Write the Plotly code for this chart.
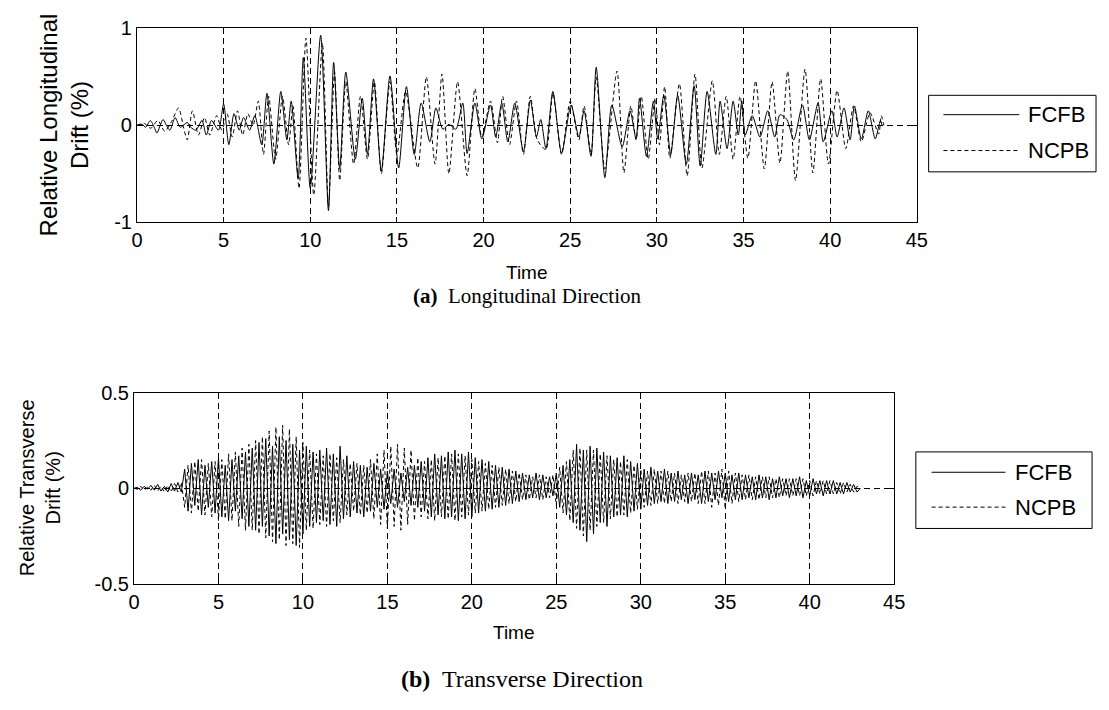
import plotly.graph_objects as go

# ---------------- Data: (a) Longitudinal direction (peak readings) ----------------
TOP_FCFB_T = [0.0, 0.3, 0.5, 0.77, 1.0, 1.15, 1.5, 1.7, 1.9, 2.2, 2.5, 2.9, 3.1, 3.4, 3.75, 4.0, 4.3, 4.7,
              5.0, 5.3, 5.6, 5.9, 6.15, 6.5, 6.8, 7.2, 7.5, 7.9, 8.3, 8.65, 8.9, 9.3, 9.6, 10.0, 10.6, 11.05,
              11.35, 11.7, 12.05, 12.6, 13.0, 13.3, 13.65, 14.1, 14.6, 15.1, 15.55, 16.0, 16.4, 16.9, 17.25,
              17.65, 18.0, 18.4, 18.8, 19.05, 19.5, 19.9, 20.4, 20.7, 21.05, 21.4, 21.8, 22.3, 22.7, 23.05,
              23.3, 23.6, 24.0, 24.5, 25.05, 25.5, 25.8, 26.2, 26.5, 27.0, 27.4, 28.0, 28.45, 28.8, 29.0,
              29.4, 29.8, 30.05, 30.4, 30.8, 31.2, 31.7, 32.15, 32.5, 32.9, 33.4, 33.65, 34.05, 34.4, 34.7,
              34.9, 35.1, 35.5, 35.95, 36.4, 36.8, 37.1, 37.5, 37.9, 38.4, 38.8, 39.3, 39.6, 40.1, 40.4,
              40.8, 41.15, 41.4, 41.8, 42.2, 42.6, 42.9, 43.0]
TOP_FCFB_V = [0.0, 0.01, -0.02, 0.05, -0.02, -0.08, 0.06, 0.0, -0.05, 0.08, -0.02, 0.03, -0.02, -0.05, 0.05, -0.1,
              0.05, -0.05, 0.22, -0.2, 0.12, -0.05, 0.08, -0.05, 0.1, -0.2, 0.33, -0.4, 0.35, -0.15, 0.25, -0.55,
              0.7, -0.65, 0.93, -0.88, 0.65, -0.45, 0.55, -0.35, 0.28, -0.3, 0.48, -0.47, 0.51, -0.44, 0.4, -0.3,
              0.23, -0.17, 0.18, -0.04, 0.01, -0.04, 0.23, -0.29, 0.23, -0.14, 0.21, -0.12, 0.23, -0.17, 0.23,
              -0.27, 0.26, -0.12, 0.06, -0.24, 0.35, -0.29, 0.21, -0.12, 0.15, -0.32, 0.6, -0.54, 0.21, -0.22,
              0.15, -0.14, 0.28, -0.32, 0.25, -0.14, 0.31, -0.3, 0.31, -0.4, 0.41, -0.42, 0.35, -0.3, 0.25,
              -0.24, 0.25, -0.1, 0.25, -0.1, 0.1, -0.12, 0.15, -0.12, 0.11, 0.06, -0.15, 0.21, -0.15, 0.23,
              -0.17, 0.15, -0.12, 0.18, -0.15, 0.2, -0.14, 0.15, -0.14, 0.05, 0.0]

TOP_NCPB_T = [0.0, 0.4, 0.8, 1.2, 1.6, 2.0, 2.4, 2.7, 2.9, 3.2, 3.55, 3.9, 4.2, 4.6, 4.9, 5.2, 5.5, 5.8, 6.1,
              6.4, 6.7, 7.0, 7.3, 7.6, 8.0, 8.4, 8.75, 9.0, 9.35, 9.75, 10.2, 10.7, 11.05, 11.4, 11.7, 12.05,
              12.5, 12.9, 13.3, 13.7, 14.1, 14.6, 15.0, 15.5, 16.2, 16.7, 17.2, 17.6, 18.0, 18.5, 19.05, 19.5,
              19.9, 20.4, 20.8, 21.1, 21.5, 21.9, 22.3, 22.7, 23.1, 23.6, 24.0, 24.5, 25.0, 25.5, 25.8, 26.2,
              26.5, 27.0, 27.7, 28.1, 28.5, 28.8, 29.1, 29.5, 29.9, 30.15, 30.45, 30.75, 31.3, 31.75, 32.2,
              32.6, 33.2, 33.6, 34.0, 34.4, 34.8, 35.25, 35.7, 36.2, 36.65, 37.1, 37.55, 38.0, 38.55, 39.0,
              39.45, 39.9, 40.4, 40.9, 41.35, 41.8, 42.3, 42.8, 42.95, 43.1]
TOP_NCPB_V = [0.0, 0.02, -0.03, 0.05, -0.06, 0.04, 0.18, -0.03, -0.15, 0.15, -0.1, 0.08, -0.1, 0.1, -0.05,
              0.12, -0.12, 0.15, -0.1, 0.12, 0.0, 0.25, -0.3, 0.3, -0.35, 0.3, -0.2, 0.2, -0.65, 0.9, -0.72,
              0.85, -0.84, 0.55, -0.57, 0.45, -0.4, 0.3, -0.35, 0.45, -0.5, 0.45, -0.3, 0.35, -0.44, 0.5, -0.4,
              0.53, -0.5, 0.45, -0.52, 0.38, -0.12, 0.25, -0.18, 0.3, -0.2, 0.25, -0.3, 0.3, -0.15, -0.25, 0.33,
              -0.3, 0.25, -0.15, 0.2, -0.3, 0.5, -0.45, 0.56, -0.49, 0.2, -0.15, 0.3, -0.35, 0.28, -0.2, 0.4,
              -0.34, 0.43, -0.52, 0.53, -0.44, 0.46, -0.3, 0.3, -0.35, 0.3, -0.34, 0.46, -0.45, 0.45, -0.39,
              0.56, -0.57, 0.58, -0.49, 0.48, -0.4, 0.36, -0.24, 0.2, -0.17, 0.13, -0.09, 0.1, 0.0]

# ---------------- Data: (b) Transverse direction (readings every 0.2 s) ----------------
BOT_STEP = 0.2
BOT_FCFB_V = [0, 0.005, -0.01, 0.01, -0.005, 0.015, -0.01, 0.02, -0.015, 0.01, -0.02, 0.025, -0.015, 0.03, -0.02,
              0.1, -0.12, 0.13, -0.09, 0.15, -0.14, 0.12, -0.1, 0.14, -0.13,
              0.16, -0.15, 0.12, -0.17, 0.15, -0.12, 0.17, -0.16, 0.19, -0.2,
              0.21, -0.22, 0.24, -0.2, 0.26, -0.25, 0.22, -0.29, 0.27, -0.24,
              0.25, -0.27, 0.23, -0.3, 0.2, -0.24, 0.22, -0.2, 0.19, -0.18,
              0.2, -0.17, 0.21, -0.19, 0.18, -0.2, 0.22, -0.16, 0.17, -0.15,
              0.14, -0.13, 0.12, -0.15, 0.11, -0.12, 0.13, -0.1, 0.1, -0.11,
              0.09, -0.08, 0.1, -0.1, 0.08, -0.07, 0.11, -0.09, 0.12, -0.1,
              0.14, -0.12, 0.16, -0.15, 0.18, -0.14, 0.17, -0.16, 0.19, -0.15,
              0.2, -0.17, 0.18, -0.16, 0.19, -0.15, 0.16, -0.13, 0.15, -0.12,
              0.14, -0.11, 0.12, -0.1, 0.11, -0.09, 0.1, -0.08, 0.09, -0.07,
              0.08, -0.06, 0.07, -0.05, 0.08, -0.06, 0.07, -0.05, 0.06, -0.04,
              0.08, -0.1, 0.12, -0.14, 0.15, -0.18, 0.23, -0.22, 0.2, -0.28,
              0.22, -0.24, 0.21, -0.18, 0.19, -0.2, 0.17, -0.15, 0.16, -0.14,
              0.17, -0.15, 0.14, -0.12, 0.13, -0.11, 0.1, -0.09, 0.11, -0.08,
              0.09, -0.07, 0.1, -0.08, 0.08, -0.07, 0.09, -0.06, 0.07, -0.08,
              0.08, -0.06, 0.07, -0.08, 0.09, -0.07, 0.08, -0.06, 0.09, -0.05,
              0.08, -0.07, 0.07, -0.06, 0.08, -0.06, 0.07, -0.05, 0.06, -0.06,
              0.07, -0.05, 0.06, -0.06, 0.05, -0.05, 0.06, -0.04, 0.05, -0.05,
              0.05, -0.04, 0.06, -0.05, 0.04, -0.04, 0.05, -0.03, 0.04, -0.04,
              0.04, -0.03, 0.04, -0.03, 0.03, -0.03, 0.03, -0.02, 0.02, -0.02, 0.0]
BOT_NCPB_V = [0, -0.005, 0.01, -0.01, 0.005, -0.01, 0.015, -0.015, 0.01, -0.02, 0.015, -0.02, 0.025, -0.02, 0.03,
              -0.1, 0.12, -0.13, 0.14, -0.12, 0.15, -0.14, 0.13, -0.15, 0.14,
              -0.17, 0.15, -0.16, 0.18, -0.17, 0.19, -0.2, 0.21, -0.22, 0.23,
              -0.22, 0.25, -0.24, 0.27, -0.26, 0.3, -0.28, 0.32, -0.27, 0.33,
              -0.3, 0.31, -0.29, 0.27, -0.31, 0.24, -0.22, 0.2, -0.21, 0.18,
              -0.19, 0.17, -0.2, 0.18, -0.17, 0.16, -0.18, 0.15, -0.14, 0.13,
              -0.12, 0.13, -0.14, 0.12, -0.13, 0.15, -0.16, 0.18, -0.19, 0.2,
              -0.21, 0.22, -0.2, 0.23, -0.22, 0.21, -0.19, 0.2, -0.17, 0.16,
              -0.15, 0.14, -0.16, 0.15, -0.17, 0.16, -0.15, 0.17, -0.16, 0.18,
              -0.17, 0.18, -0.15, 0.17, -0.14, 0.15, -0.13, 0.14, -0.12, 0.13,
              -0.11, 0.12, -0.1, 0.11, -0.09, 0.1, -0.08, 0.09, -0.07, 0.08,
              -0.06, 0.07, -0.06, 0.06, -0.05, 0.07, -0.06, 0.06, -0.05, 0.07,
              -0.09, 0.11, -0.13, 0.14, -0.17, 0.2, -0.21, 0.21, -0.25, 0.2,
              -0.22, 0.2, -0.2, 0.18, -0.18, 0.17, -0.16, 0.15, -0.15, 0.14,
              -0.14, 0.15, -0.13, 0.12, -0.11, 0.1, -0.1, 0.09, -0.09, 0.1,
              -0.08, 0.09, -0.08, 0.09, -0.07, 0.08, -0.08, 0.07, -0.07, 0.08,
              -0.07, 0.08, -0.08, 0.09, -0.08, 0.09, -0.1, 0.08, -0.09, 0.1,
              -0.11, 0.09, -0.08, 0.08, -0.07, 0.07, -0.06, 0.07, -0.06, 0.06,
              -0.06, 0.06, -0.05, 0.06, -0.05, 0.05, -0.05, 0.05, -0.04, 0.05,
              -0.04, 0.05, -0.04, 0.05, -0.04, 0.04, -0.04, 0.04, -0.03, 0.04,
              -0.03, 0.04, -0.03, 0.03, -0.03, 0.03, -0.02, 0.02, -0.02, 0.01, 0.0]
BOT_FCFB_T = [round(i * BOT_STEP, 2) for i in range(len(BOT_FCFB_V))]
BOT_NCPB_T = [round(i * BOT_STEP, 2) for i in range(len(BOT_NCPB_V))]

SERIES_NAMES = ["FCFB", "NCPB"]
X_TICKS = [0, 5, 10, 15, 20, 25, 30, 35, 40, 45]
TOP_Y_TICKS = [-1, 0, 1]
TOP_Y_LABELS = ["-1", "0", "1"]
BOT_Y_TICKS = [-0.5, 0, 0.5]
BOT_Y_LABELS = ["-0.5", "0", "0.5"]

W, H = 1109, 710
SANS = "Liberation Sans, Arial, sans-serif"
SERIF = "Liberation Serif, Times New Roman, serif"


def px(x):
    return x / W


def py(y):
    return 1 - y / H


fig = go.Figure()
solid = dict(color="black", width=1, shape="spline", smoothing=0.7)
dashed = dict(color="black", width=1, dash="4px,3px", shape="spline", smoothing=0.7)
fig.add_trace(go.Scatter(x=TOP_FCFB_T, y=TOP_FCFB_V, mode="lines", line=solid, name=SERIES_NAMES[0],
                         xaxis="x", yaxis="y"))
fig.add_trace(go.Scatter(x=TOP_NCPB_T, y=TOP_NCPB_V, mode="lines", line=dashed, name=SERIES_NAMES[1],
                         xaxis="x", yaxis="y"))
fig.add_trace(go.Scatter(x=BOT_FCFB_T, y=BOT_FCFB_V, mode="lines", line=dict(color="black", width=1),
                         name=SERIES_NAMES[0], xaxis="x2", yaxis="y2"))
fig.add_trace(go.Scatter(x=BOT_NCPB_T, y=BOT_NCPB_V, mode="lines",
                         line=dict(color="black", width=1, dash="4px,3px"),
                         name=SERIES_NAMES[1], xaxis="x2", yaxis="y2"))

common = dict(showline=True, linecolor="black", linewidth=1, mirror="allticks", ticks="inside",
              ticklen=5, tickcolor="black", showgrid=True, gridcolor="black", gridwidth=1,
              griddash="6px,4px", zeroline=False, tickfont=dict(family=SANS, size=20, color="black"))

fig.update_layout(
    width=W, height=H, margin=dict(l=0, r=0, t=0, b=0),
    paper_bgcolor="white", plot_bgcolor="white", showlegend=False,
    xaxis=dict(domain=[px(133), px(925)], range=[0, 45], tickvals=X_TICKS, anchor="y", **common),
    yaxis=dict(domain=[py(218), py(18)], range=[-1, 1], tickvals=TOP_Y_TICKS, ticktext=TOP_Y_LABELS,
               anchor="x", **common),
    xaxis2=dict(domain=[px(130), px(902)], range=[0, 45], tickvals=X_TICKS, anchor="y2", **common),
    yaxis2=dict(domain=[py(591), py(394)], range=[-0.5, 0.5], tickvals=BOT_Y_TICKS, ticktext=BOT_Y_LABELS,
                anchor="x2", **common),
)

ann = []
lab = dict(family=SANS, size=19, color="black")
ann.append(dict(x=px(529), y=py(270), text="Time", font=lab))
ann.append(dict(x=px(516), y=py(641), text="Time", font=lab))
ann.append(dict(x=px(59), y=py(118), text="Relative Longitudinal<br>Drift (%)", textangle=-90,
                font=dict(family=SANS, size=24, color="black")))
ann.append(dict(x=px(34), y=py(492), text="Relative Transverse<br>Drift (%)", textangle=-90,
                font=dict(family=SANS, size=20, color="black")))
ann.append(dict(x=px(530), y=py(294), text="<b>(a)</b>  Longitudinal Direction",
                font=dict(family=SERIF, size=21, color="black")))
ann.append(dict(x=px(524), y=py(689), text="<b>(b)</b>  Transverse Direction",
                font=dict(family=SERIF, size=24, color="black")))

shapes = []
leg_font = dict(family=SANS, size=22, color="black")
# manual legends: (box x0, x1, y0, y1, line x0, x1, solid y, dashed y, text x)
for bx0, bx1, by0, by1, lx0, lx1, ys, yd, tx in [
    (937, 1107, 87, 166, 952, 1029, 107, 144, 1036),
    (924, 1103, 455, 534, 940, 1015, 476, 512, 1023),
]:
    shapes.append(dict(type="rect", xref="paper", yref="paper", x0=px(bx0), x1=px(bx1), y0=py(by1), y1=py(by0),
                       line=dict(color="black", width=1), fillcolor="white"))
    shapes.append(dict(type="line", xref="paper", yref="paper", x0=px(lx0), x1=px(lx1), y0=py(ys), y1=py(ys),
                       line=dict(color="black", width=1)))
    shapes.append(dict(type="line", xref="paper", yref="paper", x0=px(lx0), x1=px(lx1), y0=py(yd), y1=py(yd),
                       line=dict(color="black", width=1, dash="4px,3px")))
    ann.append(dict(x=px(tx), y=py(ys), text=SERIES_NAMES[0], xanchor="left", font=leg_font))
    ann.append(dict(x=px(tx), y=py(yd), text=SERIES_NAMES[1], xanchor="left", font=leg_font))

for a in ann:
    a.setdefault("xanchor", "center")
    a.update(xref="paper", yref="paper", yanchor="middle", showarrow=False)
fig.update_layout(annotations=ann, shapes=shapes)

fig.write_html("out.html")
